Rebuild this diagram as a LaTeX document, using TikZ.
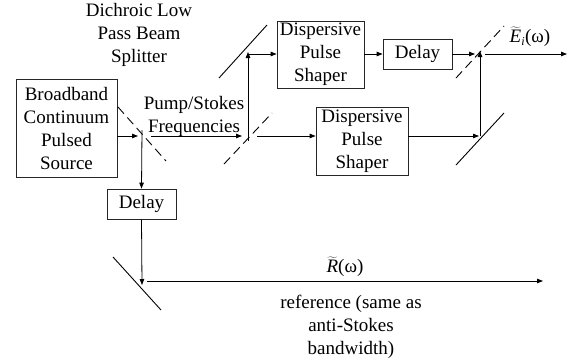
\documentclass[tikz,border=0pt]{standalone}
\usepackage{fontspec}
\setmainfont{Liberation Serif}
\newfontfamily\tms{Liberation Serif}
\usetikzlibrary{arrows.meta}
\begin{document}
\begin{tikzpicture}[x=1pt,y=-1pt,
  box/.style={draw=black!85,line width=0.8pt,inner sep=0pt,align=center,
    font=\tms\fontsize{19}{23}\selectfont},
  lbl/.style={inner sep=0pt,align=center,font=\tms\fontsize{19}{23}\selectfont},
  arr/.style={line width=0.8pt,-{Triangle[length=6pt,width=4.5pt]}},
  mirror/.style={line width=0.9pt},
  splitter/.style={line width=0.9pt,dash pattern=on 9pt off 5pt}]
\useasboundingbox (0,0) rectangle (573,360);
% boxes
\node[box,minimum width=101pt,minimum height=98pt] (src) at (66.5,128) {Broadband\\Continuum\\Pulsed\\Source};
\node[box,minimum width=87pt,minimum height=67pt] (disp1) at (320.5,54.5) {Dispersive\\Pulse\\Shaper};
\node[box,minimum width=69pt,minimum height=30pt] (delay1) at (417.5,54) {Delay};
\node[box,minimum width=92pt,minimum height=68pt] (disp2) at (362,141) {Dispersive\\Pulse\\Shaper};
\node[box,minimum width=69pt,minimum height=30pt] (delay2) at (141.5,204) {Delay};
% labels
\node[lbl] (dich) at (139,35) {Dichroic Low\\Pass Beam\\Splitter};
\node[lbl] (pump) at (194,116) {Pump/Stokes\\Frequencies};
\node[lbl] (eout) at (530,37) {$\widetilde{\mbox{\tms\itshape E}}_{\mbox{\tms\fontsize{12}{12}\selectfont\itshape i}}$(ω)};
\node[lbl] (rout) at (345,267) {$\widetilde{\mbox{\tms\itshape R}}$(ω)};
\node[lbl] (refl) at (351,327) {reference (same as\\anti-Stokes\\bandwidth)};
% beam points
\coordinate (bs1) at (142,136);
\coordinate (bs2) at (248,136);
\coordinate (m1) at (248,54);
\coordinate (bs3) at (480,54);
\coordinate (m2) at (480,136);
\coordinate (m3) at (142,281);
\coordinate (out1) at (567,54);
\coordinate (out2) at (543,281);
% mirrors and splitters
\draw[splitter] (118,107) -- (166,161);
\draw[splitter] (224,164) -- (272,113);
\draw[mirror] (219,78) -- (267,25);
\draw[splitter] (456,78) -- (504,26);
\draw[mirror] (456,165) -- (504,113);
\draw[mirror] (113,257) -- (161,310);
% connectors
\draw[arr] (src.east |- bs1) -- ([xshift=-4pt]bs1);
\draw[arr] ([xshift=9pt]bs1) -- ([xshift=-6pt]bs2);
\draw[arr] ([yshift=6pt]bs1) -- (delay2.north);
\draw[arr] ([yshift=-5pt]bs2) -- ([yshift=2pt]m1);
\draw[arr] (m1) -- (disp1.west |- m1);
\draw[arr] ([xshift=9pt]bs2) -- (disp2.west |- bs2);
\draw[arr] (disp1.east |- m1) -- (delay1.west |- m1);
\draw[arr] (delay1.east |- bs3) -- ([xshift=-5pt]bs3);
\draw[arr] ([xshift=5pt]bs3) -- (out1);
\draw[arr] (disp2.east |- m2) -- ([xshift=-1pt]m2);
\draw[arr] (m2) -- ([yshift=3pt]bs3);
\draw[arr] (delay2.south) -- ([yshift=-4pt]m3);
\draw[arr] ([xshift=5pt]m3) -- (out2);
\end{tikzpicture}
\end{document}
